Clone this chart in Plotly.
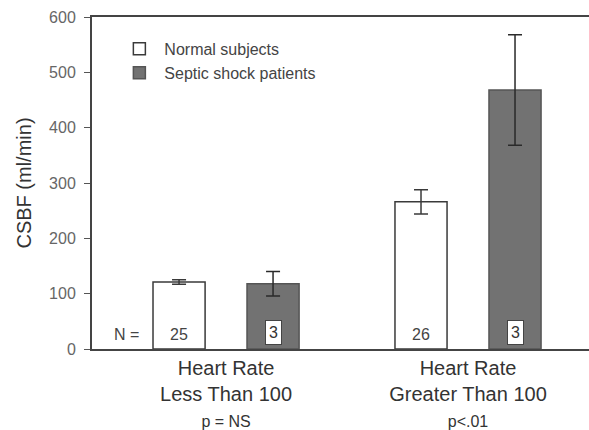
import plotly.graph_objects as go

categories = ["Heart Rate<br>Less Than 100<br><span style='font-size:16px'>p = NS</span>",
              "Heart Rate<br>Greater Than 100<br><span style='font-size:16px'>p<.01</span>"]
normal_vals = [121, 266]
normal_err = [4, 22]
septic_vals = [118, 468]
septic_err = [22, 100]
normal_n = ["25", "26"]
septic_n = ["3", "3"]
y_ticks = [0, 100, 200, 300, 400, 500, 600]

FONT = "Liberation Sans, Arial, sans-serif"

fig = go.Figure()
fig.add_trace(go.Bar(
    x=[0, 1], y=normal_vals, name="Normal subjects",
    marker=dict(color="white", line=dict(color="#3a3a3a", width=1.5)),
    error_y=dict(type="data", array=normal_err, color="#3a3a3a", thickness=1.5, width=7),
))
fig.add_trace(go.Bar(
    x=[0, 1], y=septic_vals, name="Septic shock patients",
    marker=dict(color="#727272", line=dict(color="#555555", width=1.5)),
    error_y=dict(type="data", array=septic_err, color="#2a2a2a", thickness=1.5, width=7),
))

# N labels inside bars
for i in range(2):
    fig.add_annotation(x=i, y=0, xshift=-47, yshift=15, text=normal_n[i], showarrow=False,
                       font=dict(family=FONT, size=16, color="#444"))
    fig.add_annotation(x=i, y=0, xshift=47, yshift=17, text=septic_n[i], showarrow=False,
                       font=dict(family=FONT, size=16, color="#333"),
                       bgcolor="white", bordercolor="#444", borderwidth=1, borderpad=3)
fig.add_annotation(x=0, y=0, xshift=-100, yshift=15, text="N =", showarrow=False,
                   font=dict(family=FONT, size=16, color="#444"))

fig.update_layout(
    width=589, height=430,
    margin=dict(l=92, r=0, t=17, b=81),
    paper_bgcolor="white", plot_bgcolor="white",
    barmode="group", bargap=0.223, bargroupgap=0.446,
    font=dict(family=FONT, color="#333"),
    showlegend=True,
    legend=dict(x=0.045, y=0.955, xanchor="left", yanchor="top",
                font=dict(family=FONT, size=16, color="#444"),
                bgcolor="rgba(0,0,0,0)", itemwidth=40, tracegroupgap=2),
    xaxis=dict(
        range=[-0.554, 1.5], tickmode="array", tickvals=[0, 1], ticktext=categories,
        showline=True, linecolor="#444", linewidth=2, mirror=True,
        ticks="", showgrid=False, zeroline=False, automargin=False,
        tickfont=dict(family=FONT, size=20, color="#333"),
    ),
    yaxis=dict(
        range=[0, 600], tickmode="array", tickvals=y_ticks,
        showline=True, linecolor="#444", linewidth=2,
        ticks="outside", ticklen=6, tickcolor="#555",
        showgrid=False, zeroline=False, automargin=False,
        ticklabelstandoff=5,
        tickfont=dict(family=FONT, size=16, color="#666"),
        title=dict(text="CSBF (ml/min)", font=dict(family=FONT, size=20, color="#333"), standoff=12),
    ),
)

fig.write_html("out.html")
